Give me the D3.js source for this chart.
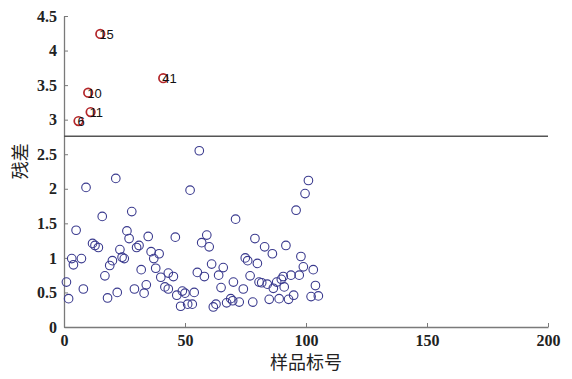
<!DOCTYPE html>
<html>
<head>
<meta charset="utf-8">
<script src="https://cdn.jsdelivr.net/npm/d3@7"></script>
<style>
  body { margin: 0; background: #fff; }
  svg { display: block; }
</style>
</head>
<body>
<svg id="chart" width="572" height="379"></svg>
<script>
// residuals of normal samples (sample index, residual)
const sampleIdx = [21.4, 9.1, 15.8, 5.0, 28.0, 26.0, 26.9, 11.8, 12.8, 14.2, 23.1, 24.0, 24.9, 3.2, 7.2, 3.9, 20.0, 18.9, 16.9, 8.0,
  1.9, 1.0, 18.0, 22.0, 29.1, 33.1, 34.0, 31.9, 31.0, 30.0, 34.8, 36.0, 37.1, 39.3, 37.9, 40.0, 41.7, 43.1,
  55.9, 52.1, 70.9, 46.0, 59.0, 56.9, 60.0, 78.9, 82.9, 86.1, 91.7, 95.9, 99.6, 101.0, 97.9, 98.9, 103.0, 103.9,
  102.1, 105.1, 74.9, 75.9, 79.9, 61.0, 65.8, 63.9, 55.1, 58.0, 45.2, 43.1, 46.6, 48.9, 50.0, 53.8, 48.2, 51.1,
  53.0, 61.7, 62.8, 67.2, 68.9, 69.7, 72.4, 78.0, 64.9, 70.0, 74.1, 76.9, 80.6, 81.7, 84.0, 86.5, 87.9, 89.8,
  91.0, 93.8, 97.2, 84.8, 88.9, 92.8, 94.9, 90.6];
const residual = [2.15, 2.02, 1.60, 1.40, 1.67, 1.39, 1.28, 1.21, 1.18, 1.15, 1.12, 1.01, 0.99, 0.99, 0.99, 0.90, 0.96, 0.89, 0.74, 0.55,
  0.41, 0.65, 0.42, 0.50, 0.55, 0.49, 0.61, 0.83, 1.18, 1.15, 1.31, 1.09, 0.99, 1.06, 0.85, 0.72, 0.58, 0.78,
  2.55, 1.98, 1.56, 1.30, 1.33, 1.22, 1.16, 1.28, 1.16, 1.06, 1.18, 1.69, 1.93, 2.12, 1.02, 0.87, 0.83, 0.60,
  0.44, 0.45, 1.00, 0.96, 0.92, 0.91, 0.86, 0.75, 0.79, 0.73, 0.73, 0.55, 0.46, 0.52, 0.49, 0.50, 0.30, 0.33,
  0.33, 0.29, 0.33, 0.35, 0.41, 0.38, 0.36, 0.36, 0.57, 0.65, 0.55, 0.74, 0.65, 0.64, 0.62, 0.56, 0.65, 0.69,
  0.58, 0.75, 0.75, 0.40, 0.41, 0.40, 0.46, 0.73];

// outliers above the threshold
const outlierIdx = [15, 41, 10, 11, 6];
const outlierRes = [4.24, 3.60, 3.39, 3.11, 2.98];

const threshold = 2.76;
const xTicks = [0, 50, 100, 150, 200];
const yTicks = [0, 0.5, 1, 1.5, 2, 2.5, 3, 3.5, 4, 4.5];

const svg = d3.select('#chart');
const m = {left: 64, right: 24, top: 16, bottom: 52};
const W = 572, H = 379;

const x = d3.scaleLinear().domain([0, 200]).range([m.left, W - m.right]);
const y = d3.scaleLinear().domain([0, 4.5]).range([H - m.bottom, m.top]);

const axisColor = '#7a7a7a';

// x axis (ticks point inward)
const gx = svg.append('g')
  .attr('transform', 'translate(0,' + (H - m.bottom) + ')')
  .call(d3.axisBottom(x).tickValues(xTicks).tickSizeInner(-4).tickSizeOuter(0).tickPadding(8));

// y axis
const gy = svg.append('g')
  .attr('transform', 'translate(' + m.left + ',0)')
  .call(d3.axisLeft(y).tickValues(yTicks).tickSizeInner(-4).tickSizeOuter(0).tickPadding(7)
    .tickFormat(d3.format('')));

[gx, gy].forEach(g => {
  g.select('.domain').attr('stroke', axisColor).attr('stroke-width', 1.3);
  g.selectAll('.tick line').attr('stroke', axisColor).attr('stroke-width', 1);
  g.selectAll('.tick text')
    .attr('fill', '#222')
    .style('font-family', '"Liberation Serif", "DejaVu Serif", serif')
    .style('font-weight', 'bold')
    .style('font-size', '16px');
});

// threshold line
svg.append('line')
  .attr('x1', x(0)).attr('x2', x(200))
  .attr('y1', y(threshold)).attr('y2', y(threshold))
  .attr('stroke', '#555').attr('stroke-width', 1.4);

// normal samples
svg.append('g').selectAll('circle')
  .data(d3.zip(sampleIdx, residual))
  .join('circle')
  .attr('cx', d => x(d[0]))
  .attr('cy', d => y(d[1]))
  .attr('r', 4.3)
  .attr('fill', 'none')
  .attr('stroke', '#3a3a8e')
  .attr('stroke-width', 1.1);

// outliers
const out = d3.zip(outlierIdx, outlierRes);
svg.append('g').selectAll('circle')
  .data(out)
  .join('circle')
  .attr('cx', d => x(d[0]))
  .attr('cy', d => y(d[1]))
  .attr('r', 4.3)
  .attr('fill', 'none')
  .attr('stroke', '#b3262a')
  .attr('stroke-width', 1.7);

svg.append('g').selectAll('text')
  .data(out)
  .join('text')
  .attr('x', d => x(d[0]) - 1)
  .attr('y', d => y(d[1]) + 5)
  .attr('fill', '#111')
  .style('font-family', '"Liberation Sans", Arial, sans-serif')
  .style('font-size', '13px')
  .text(d => d[0]);

// axis labels
svg.append('text')
  .attr('x', x(100)).attr('y', H - 10)
  .attr('text-anchor', 'middle')
  .style('font-family', '"Noto Sans CJK SC", sans-serif')
  .style('font-size', '18px')
  .attr('fill', '#222')
  .text('样品标号');

svg.append('text')
  .attr('transform', 'translate(27,' + y(2.4) + ') rotate(-90)')
  .attr('text-anchor', 'middle')
  .style('font-family', '"Noto Sans CJK SC", sans-serif')
  .style('font-size', '18px')
  .attr('fill', '#222')
  .text('残差');
</script>
</body>
</html>
